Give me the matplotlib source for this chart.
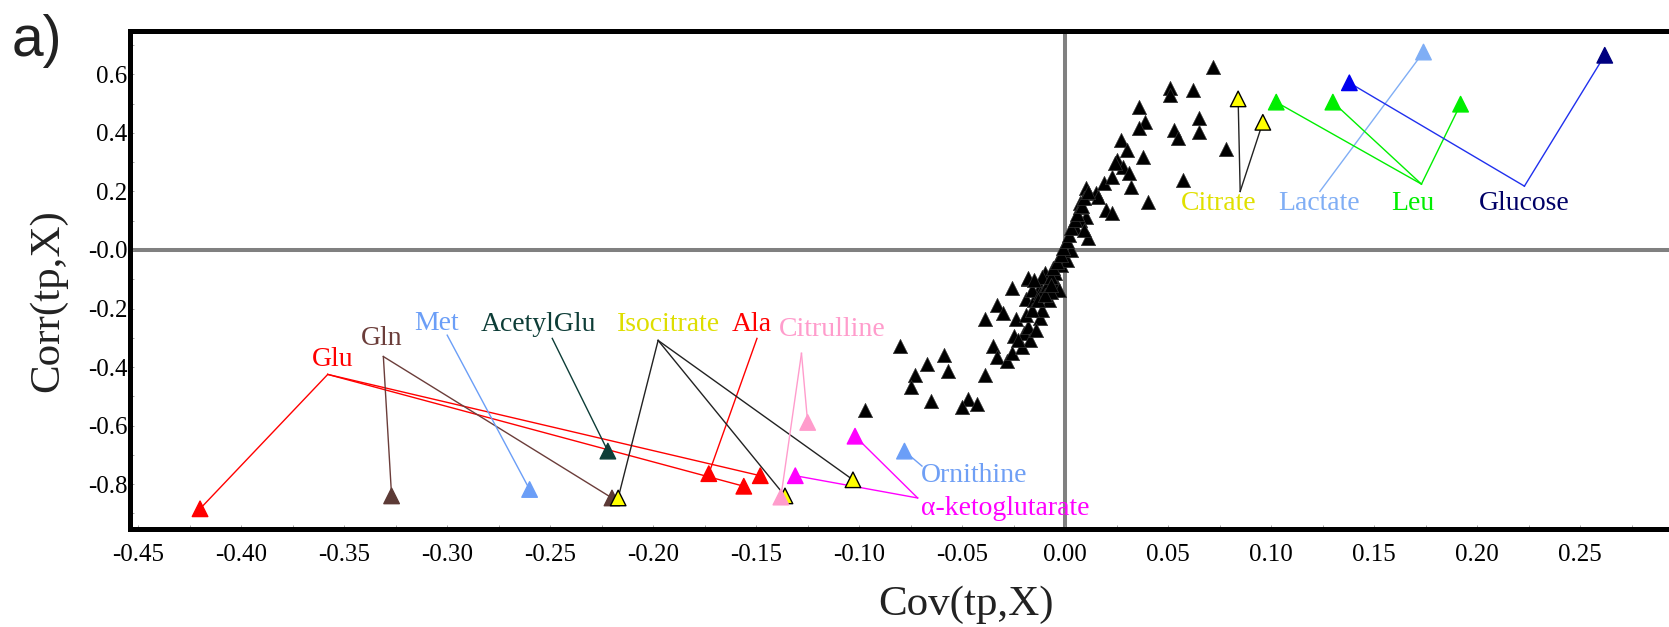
import matplotlib
matplotlib.use('Agg')
import matplotlib.pyplot as plt
from matplotlib.ticker import MultipleLocator, FormatStrFormatter

# unlabelled metabolites (black triangles)
cloud_x = [-0.080, -0.059, -0.067, -0.057, -0.073, -0.075, -0.065, -0.097, -0.047, -0.050,
           -0.043, -0.039, -0.039, -0.035, -0.033, -0.033, -0.030, -0.026, -0.024, -0.028,
           -0.026, -0.025, -0.021, -0.020, -0.018, -0.017, -0.018, -0.019, -0.015, -0.012,
           -0.011, -0.010, -0.008, -0.006, -0.004, -0.012, -0.014, -0.016, -0.002, -0.008,
           -0.012, -0.011, -0.005, -0.018, -0.003, -0.002, 0.001, 0.003, 0.005, 0.011,
           0.010, 0.007, 0.010, 0.015, 0.007, 0.019, 0.020, 0.023, 0.007, 0.009,
           0.023, 0.025, 0.027, 0.030, 0.028, 0.031, 0.032, 0.038, 0.040, 0.036,
           0.039, 0.036, 0.051, 0.051, 0.062, 0.053, 0.055, 0.057, 0.065, 0.065,
           0.072, 0.078, 0.024, 0.016, -0.011, -0.009, -0.007, -0.006, -0.004, -0.002,
           -0.001, 0.001, 0.002, 0.003, 0.005, 0.006, 0.008, 0.009, 0.011, -0.015,
           -0.007, -0.023, -0.019, -0.016, -0.013, -0.010, -0.007]
cloud_y = [-0.328, -0.359, -0.390, -0.412, -0.427, -0.467, -0.516, -0.548, -0.509, -0.537,
           -0.527, -0.427, -0.237, -0.328, -0.367, -0.188, -0.216, -0.129, -0.237, -0.379,
           -0.353, -0.294, -0.330, -0.285, -0.262, -0.307, -0.100, -0.168, -0.171, -0.233,
           -0.205, -0.080, -0.171, -0.097, -0.125, -0.125, -0.273, -0.137, -0.023, -0.113,
           -0.147, -0.091, -0.080, -0.097, -0.137, -0.051, -0.034, 0.000, 0.080, 0.040,
           0.114, 0.160, 0.211, 0.194, 0.148, 0.228, 0.137, 0.125, 0.102, 0.068,
           0.250, 0.307, 0.376, 0.342, 0.285, 0.262, 0.216, 0.319, 0.165, 0.490,
           0.438, 0.416, 0.552, 0.530, 0.547, 0.410, 0.382, 0.239, 0.450, 0.404,
           0.626, 0.344, 0.296, 0.182, -0.147, -0.120, -0.092, -0.061, -0.041, -0.017,
           0.007, 0.031, 0.051, 0.075, 0.102, 0.123, 0.150, 0.178, 0.198, -0.102,
           -0.143, -0.307, -0.222, -0.205, -0.171, -0.154, -0.120]

# labels: text, position, start of the leader lines
labels = ['Glu', 'Gln', 'Met', 'AcetylGlu', 'Isocitrate', 'Ala', 'Citrulline',
          'Ornithine', 'α-ketoglutarate', 'Citrate', 'Lactate', 'Leu', 'Glucose']
label_x = [-0.3555, -0.332, -0.305, -0.2558, -0.1927, -0.152, -0.1131,
           -0.0442, -0.029, 0.0747, 0.1232, 0.169, 0.223]
label_y = [-0.375, -0.302, -0.250, -0.255, -0.255, -0.255, -0.273,
           -0.769, -0.882, 0.160, 0.160, 0.160, 0.160]
link_x = [-0.358, -0.331, -0.300, -0.249, -0.1976, -0.1496, -0.128,
          -0.0695, -0.0716, 0.085, 0.1237, 0.173, 0.223]
link_y = [-0.425, -0.364, -0.291, -0.302, -0.309, -0.302, -0.353,
          -0.738, -0.847, 0.200, 0.200, 0.225, 0.218]
label_colors = ['#ff0000', '#6b3d3a', '#6b9ef7', '#0d3d37', '#dede00', '#ff0000', '#ff9ccc',
                '#6f9ff5', '#ff00ff', '#e0e000', '#80aef5', '#00ee00', '#000066']
line_colors = ['#ff0000', '#6b3d3a', '#6b9ef7', '#0d3d37', '#222222', '#ff0000', '#ff9ccc',
               '#6f9ff5', '#ff00ff', '#222222', '#80aef5', '#00ee00', '#2030ee']

# labelled points: owner label index, coordinates, fill, edge
pt_owner = [0, 0, 0, 5, 1, 1, 2, 3, 4, 4, 4, 6, 6, 8, 8, 7, 9, 9, 10, 11, 11, 11, 12, 12]
pt_x = [-0.420, -0.156, -0.148, -0.173, -0.327, -0.220, -0.260, -0.222, -0.217, -0.136, -0.103,
        -0.125, -0.138, -0.102, -0.131, -0.078, 0.084, 0.096, 0.174, 0.1025, 0.130, 0.192,
        0.138, 0.262]
pt_y = [-0.884, -0.807, -0.771, -0.764, -0.840, -0.847, -0.818, -0.687, -0.847, -0.840, -0.785,
        -0.589, -0.844, -0.636, -0.771, -0.687, 0.516, 0.436, 0.676, 0.505, 0.505, 0.498,
        0.571, 0.665]
pt_fill = ['#ff0000', '#ff0000', '#ff0000', '#ff0000', '#5c3a36', '#5c3a36', '#6b9ef7', '#0d3d37',
           '#ffff00', '#ffff00', '#ffff00', '#ff9ccc', '#ff9ccc', '#ff00ff', '#ff00ff', '#6b9ef7',
           '#ffff00', '#ffff00', '#7faef5', '#00ee00', '#00ee00', '#00ee00', '#0000ee', '#000080']
pt_edge = ['#ff0000', '#ff0000', '#ff0000', '#ff0000', '#5c3a36', '#5c3a36', '#6b9ef7', '#0d3d37',
           '#000000', '#000000', '#000000', '#ff9ccc', '#ff9ccc', '#ff00ff', '#ff00ff', '#6b9ef7',
           '#000000', '#000000', '#7faef5', '#00ee00', '#00ee00', '#00ee00', '#0000ee', '#000080']

x_ticks = [-0.45, -0.40, -0.35, -0.30, -0.25, -0.20, -0.15, -0.10, -0.05, 0.0,
           0.05, 0.10, 0.15, 0.20, 0.25]
y_ticks = [-0.8, -0.6, -0.4, -0.2, -1e-9, 0.2, 0.4, 0.6]

serif = ['Liberation Serif', 'DejaVu Serif']

fig = plt.figure(figsize=(16.69, 6.27), dpi=100)
ax = fig.add_axes([0.0779, 0.1563, 0.9305, 0.7943])
ax.set_xlim(-0.454, 0.30)
ax.set_ylim(-0.953, 0.748)

ax.axhline(0, color='#808080', lw=2.9, zorder=1)
ax.axvline(0, color='#808080', lw=2.9, zorder=1)

ax.scatter(cloud_x, cloud_y, marker='^', s=105, c='black', edgecolors='#333333',
           linewidths=0.5, zorder=3)

# leader lines
for i, o in enumerate(pt_owner):
    ax.plot([link_x[o], pt_x[i]], [link_y[o], pt_y[i]], color=line_colors[o], lw=1.0, zorder=2)

ax.scatter(pt_x, pt_y, marker='^', s=125, c=pt_fill, edgecolors=pt_edge, linewidths=1.0, zorder=4)

for i, name in enumerate(labels):
    ax.text(label_x[i], label_y[i], name, color=label_colors[i], fontsize=20,
            family=serif, ha='center', va='center', zorder=5)

for side in ['left', 'top', 'bottom']:
    ax.spines[side].set_linewidth(3.6)
ax.spines['right'].set_visible(False)

ax.set_xticks(x_ticks)
ax.set_yticks(y_ticks)
ax.xaxis.set_minor_locator(MultipleLocator(0.025))
ax.yaxis.set_minor_locator(MultipleLocator(0.1))
ax.xaxis.set_major_formatter(FormatStrFormatter('%.2f'))
ax.yaxis.set_major_formatter(FormatStrFormatter('%.1f'))
ax.tick_params(which='both', direction='in', length=3, width=0.6, color='#999999')
ax.tick_params(axis='x', which='major', pad=11)
ax.tick_params(axis='y', which='major', pad=2)
for lab in ax.get_xticklabels() + ax.get_yticklabels():
    lab.set_family(serif)
    lab.set_fontsize(18)

ax.set_xlabel('Cov(tp,X)', fontsize=31, family=serif, color='#222222', va='top')
ax.xaxis.set_label_coords(0.538, -0.113)
ax.set_ylabel('Corr(tp,X)', fontsize=31, family=serif, color='#222222')
ax.yaxis.set_label_coords(-0.0406, 0.459)

fig.text(0.007, 0.978, 'a)', fontsize=41, family=['Liberation Sans', 'DejaVu Sans'],
         color='#222222', ha='left', va='top')

fig.savefig('out.png', dpi=100)
